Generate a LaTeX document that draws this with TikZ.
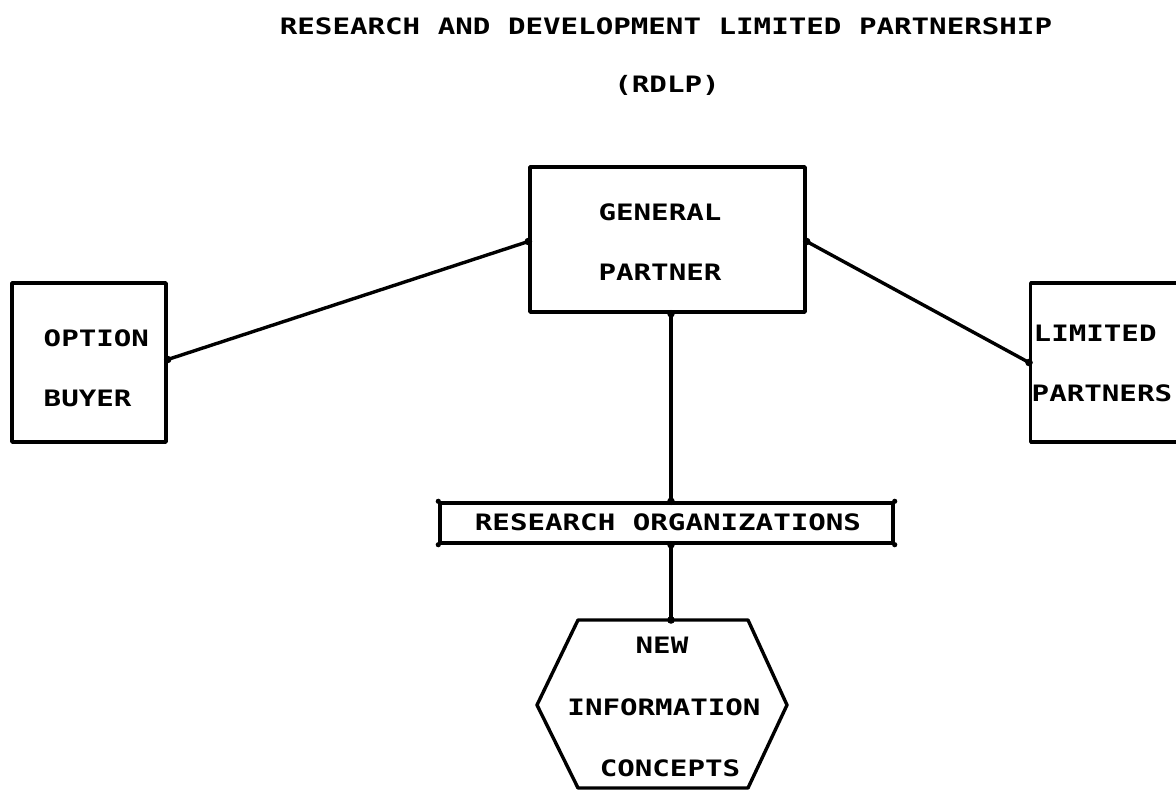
\documentclass[tikz,border=0pt]{standalone}
\usepackage{fontspec}
% plotter-style lettering: a wide, bold monospaced face
\newfontfamily\plotfont[FakeStretch=1.29]{DejaVu Sans Mono}
\begin{document}
\begin{tikzpicture}[x=1pt,y=-1pt,line width=3.4pt,line join=round,line cap=round,
  lbl/.style={font=\plotfont\bfseries\fontsize{22.6}{26}\selectfont,inner sep=0pt},
  frame/.style={draw,rectangle,inner sep=0pt,line width=3.4pt},
  wire/.style={draw,line width=3.4pt}]
\useasboundingbox (0,0) rectangle (1176,790);
\clip (0,0) rectangle (1176,790);

% heading
\node[lbl] (title) at (666,26) {RESEARCH AND DEVELOPMENT LIMITED PARTNERSHIP};
\node[lbl] (abbr) at (667,85) {(RDLP)};

% general partner
\node[frame,minimum width=275pt,minimum height=145pt] (gp) at (667.5,239.5) {};
\node[lbl] (gp1) at (660,212) {GENERAL};
\node[lbl] (gp2) at (660,272) {PARTNER};

% option buyer
\node[frame,minimum width=154pt,minimum height=159pt] (ob) at (89,362.5) {};
\node[lbl,anchor=west] (ob1) at (42,338) {OPTION};
\node[lbl,anchor=west] (ob2) at (42,398) {BUYER};

% limited partners (runs past the right edge)
\node[frame,minimum width=200pt,minimum height=159pt,anchor=west] (lp) at (1029,362.5) {};
\node[lbl,anchor=west] (lp1) at (1032,333) {LIMITED};
\node[lbl,anchor=west] (lp2) at (1030,393) {PARTNERS};

% research organizations
\node[frame,minimum width=453pt,minimum height=40pt] (ro) at (666.5,523) {};
\node[lbl] (ro1) at (668,522) {RESEARCH ORGANIZATIONS};

% hexagon of new information concepts
\coordinate (h1) at (578,620);
\coordinate (h2) at (748,620);
\coordinate (h3) at (787,705);
\coordinate (h4) at (748,788);
\coordinate (h5) at (578,788);
\coordinate (h6) at (537,705);
\coordinate (hextop) at (671,620);
\draw (h1) -- (h2) -- (h3) -- (h4) -- (h5) -- (h6) -- cycle;
\node[lbl] (hx1) at (662,645) {NEW};
\node[lbl] (hx2) at (664,707) {INFORMATION};
\node[lbl] (hx3) at (670,768) {CONCEPTS};

% connectors
\draw[wire] ([yshift=3pt]ob.east) -- ([yshift=-2pt]gp.west);
\draw[wire] ([yshift=-2pt]gp.east) -- (lp.west);
\draw[wire] (gp.south -| hextop) -- (ro.north -| hextop);
\draw[wire] (ro.south -| hextop) -- (hextop);

% joints
\foreach \p in {([yshift=3pt]ob.east),([yshift=-2pt]gp.west),([yshift=-2pt]gp.east),(lp.west),(gp.south -| hextop),(ro.north -| hextop),(ro.south -| hextop),(hextop)}
  \fill \p circle (3.8);
\foreach \p in {(ro.north west),(ro.north east),(ro.south west),(ro.south east)}
  \fill \p circle (2.6);
\end{tikzpicture}
\end{document}
